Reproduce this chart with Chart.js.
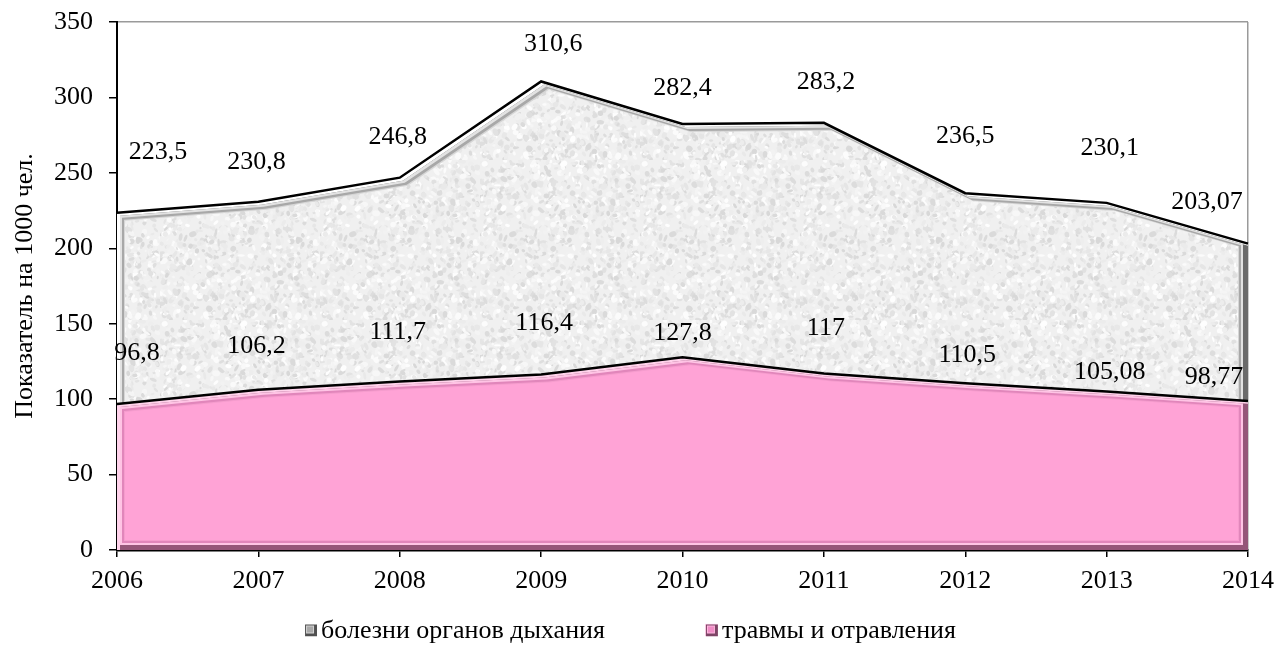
<!DOCTYPE html>
<html>
<head>
<meta charset="utf-8">
<script src="https://cdn.jsdelivr.net/npm/chart.js@4.4.0/dist/chart.umd.min.js"></script>
<style>
  html, body { margin: 0; padding: 0; background: #fff; }
  #wrap { width: 1278px; height: 651px; }
</style>
</head>
<body>
<div id="wrap"><canvas id="myChart" width="1278" height="651"></canvas></div>
<script>
var years = ['2006', '2007', '2008', '2009', '2010', '2011', '2012', '2013', '2014'];
var respiratory = [223.5, 230.8, 246.8, 310.6, 282.4, 283.2, 236.5, 230.1, 203.07];
var injuries = [96.8, 106.2, 111.7, 116.4, 127.8, 117, 110.5, 105.08, 98.77];
var seriesNames = ['болезни органов дыхания', 'травмы и отравления'];
var yTicks = [0, 50, 100, 150, 200, 250, 300, 350];
var yTitle = 'Показатель на 1000 чел.';

// label nudges in px, relative to the point (layout only)
var labelNudge = [
    [[41,-61],[-2,-40],[-2,-41],[12,-37],[0,-36],[2,-41],[0,-57],[3,-55],[-41,-41]],
    [[20,-51],[-2,-44],[-2,-49],[3,-51],[0,-24],[2,-45],[2,-28],[3,-19],[-34,-24]]
];

var FONT = '"Liberation Serif", "Times New Roman", serif';

function makeTexture(){
    var c = document.createElement('canvas');
    c.width = 160; c.height = 160;
    var g = c.getContext('2d');
    g.fillStyle = '#f0f0f0';
    g.fillRect(0, 0, 160, 160);
    var s = 12345;
    function rnd(){ s = (s * 1103515245 + 12345) % 2147483648; return s / 2147483648; }
    for (var i = 0; i < 1400; i++) {
        var v = Math.floor(216 + rnd() * 39);
        g.fillStyle = 'rgb(' + v + ',' + v + ',' + v + ')';
        g.beginPath();
        g.ellipse(rnd() * 160, rnd() * 160, 1 + rnd() * 3, 1 + rnd() * 2, rnd() * 3, 0, Math.PI * 2);
        g.fill();
    }
    return g.createPattern(c, 'repeat');
}

function tracePoly(ctx, pts, dx, dy){
    ctx.beginPath();
    pts.forEach(function(p, i){
        if (i) ctx.lineTo(p[0] + dx, p[1] + dy);
        else ctx.moveTo(p[0] + dx, p[1] + dy);
    });
    ctx.closePath();
}

// fills the part of the polygon that lies a px in from top-left and b px in from bottom-right
function fillBand(ctx, pts, a, b, color){
    ctx.save();
    tracePoly(ctx, pts, 0, 0); ctx.clip();
    tracePoly(ctx, pts, a, a); ctx.clip();
    tracePoly(ctx, pts, -b, -b);
    ctx.fillStyle = color;
    ctx.fill();
    ctx.restore();
}

function bevel(ctx, pts, layers){
    layers.forEach(function(l){ fillBand(ctx, pts, l[0], l[1], l[2]); });
}

var texture = makeTexture();
var bevels = [
    [[0, 0, '#ffffff'], [3, 0, '#6a6a6a'], [3, 5, '#e2e2e2'], [5, 7, '#a8a8a8'], [7, 9, '#d6d6d6'], [8, 10, texture]],
    [[0, 0, '#ffd3eb'], [3, 0, '#955679'], [3, 5, '#ffc4e5'], [5, 7, '#e186bb'], [7, 9, '#f59ccd'], [8, 10, '#ffa3d6']]
];
var legendBevels = [
    [[0, 0, '#ffffff'], [1, 0, '#505050'], [2, 3, '#d4d4d4'], [3, 4, '#a8a8a8']],
    [[0, 0, '#ffd0ea'], [1, 0, '#7e4566'], [2, 3, '#ffb8e0'], [3, 4, '#f08cc6']]
];

var bevelPlugin = {
    id: 'bevel',
    beforeDatasetDraw: function(chart, args){
        var meta = args.meta;
        var yb = chart.scales.y.getPixelForValue(0);
        var pts = meta.data.map(function(p){ return [p.x, p.y]; });
        pts.push([pts[pts.length - 1][0], yb]);
        pts.push([pts[0][0], yb]);
        bevel(chart.ctx, pts, bevels[args.index]);
    },
    afterDatasetsDraw: function(chart){
        var ctx = chart.ctx;
        ctx.save();
        ctx.font = '26px ' + FONT;
        ctx.fillStyle = '#000';
        ctx.textAlign = 'center';
        ctx.textBaseline = 'middle';
        chart.data.datasets.forEach(function(ds, di){
            var meta = chart.getDatasetMeta(di);
            meta.data.forEach(function(p, i){
                var n = labelNudge[di][i];
                ctx.fillText(String(ds.data[i]).replace('.', ','), p.x + n[0], p.y + n[1]);
            });
        });
        ctx.restore();
    },
    afterDraw: function(chart){
        var ctx = chart.ctx;
        ctx.save();
        ctx.font = '26px ' + FONT;
        ctx.textBaseline = 'middle';
        var box = 13, gap = 4, spacing = 100;
        var w0 = ctx.measureText(seriesNames[0]).width;
        var w1 = ctx.measureText(seriesNames[1]).width;
        var total = box + gap + w0 + spacing + box + gap + w1;
        var x = 630 - total / 2, y = 630;
        [w0, w1].forEach(function(w, i){
            var pts = [[x, y - box / 2], [x + box, y - box / 2], [x + box, y + box / 2], [x, y + box / 2]];
            bevel(ctx, pts, legendBevels[i]);
            ctx.fillStyle = '#000';
            ctx.fillText(seriesNames[i], x + box + gap, y + 1);
            x += box + gap + w + spacing;
        });
        ctx.restore();
    }
};

var ctx = document.getElementById('myChart').getContext('2d');
var chart = new Chart(ctx, {
    type: 'line',
    data: {
        labels: years,
        datasets: [{
            label: seriesNames[0],
            data: respiratory,
            fill: 'origin',
            backgroundColor: 'rgba(0,0,0,0)',
            borderColor: '#000',
            borderWidth: 2.5,
            pointRadius: 0,
            tension: 0,
            order: 1
        }, {
            label: seriesNames[1],
            data: injuries,
            fill: 'origin',
            backgroundColor: 'rgba(0,0,0,0)',
            borderColor: '#000',
            borderWidth: 2.5,
            pointRadius: 0,
            tension: 0,
            order: 0
        }]
    },
    options: {
        responsive: false,
        animation: false,
        layout: { padding: { top: 22, right: 30, bottom: 0, left: 0 } },
        plugins: {
            legend: { display: false },
            tooltip: { enabled: false }
        },
        scales: {
            x: {
                offset: false,
                border: { color: '#000', width: 2.5 },
                grid: {
                    color: function(c){ return c.index === years.length - 1 ? '#9a9a9a' : 'rgba(0,0,0,0)'; },
                    tickColor: '#000',
                    tickLength: 7,
                    lineWidth: 1.5
                },
                ticks: {
                    color: '#000',
                    font: { family: FONT, size: 26 },
                    maxRotation: 0,
                    padding: 9
                },
                afterFit: function(s){ s.height = 101; s.paddingLeft = 0; s.paddingRight = 0; }
            },
            y: {
                min: 0,
                max: 350,
                afterBuildTicks: function(s){ s.ticks = yTicks.map(function(v){ return { value: v }; }); },
                border: { color: '#000', width: 2 },
                grid: {
                    color: function(c){ return c.tick && c.tick.value === 350 ? '#9a9a9a' : 'rgba(0,0,0,0)'; },
                    tickColor: '#000',
                    tickLength: 8,
                    lineWidth: 1.5
                },
                ticks: {
                    color: '#000',
                    font: { family: FONT, size: 26 },
                    padding: 16
                },
                title: {
                    display: true,
                    text: yTitle,
                    color: '#000',
                    font: { family: FONT, size: 26 },
                    padding: { top: 10, bottom: 0 }
                },
                afterFit: function(s){ s.width = 117; s.paddingTop = 0; s.paddingBottom = 0; }
            }
        }
    },
    plugins: [bevelPlugin]
});
</script>
</body>
</html>
